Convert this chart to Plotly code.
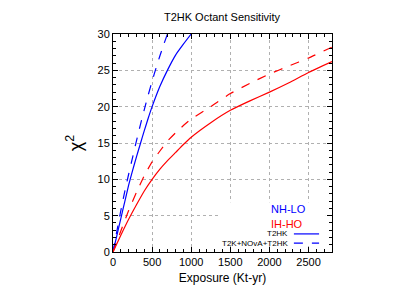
import plotly.graph_objects as go

# NH-LO, T2HK (solid blue)
nh_t2hk_x = [0, 50, 100, 150, 200, 250, 300, 350, 400, 450, 500, 600, 700, 800, 900, 1000]
nh_t2hk_y = [0, 2.3, 4.6, 6.9, 9.2, 11.2, 13.1, 14.9, 16.7, 18.4, 20.0, 22.8, 25.1, 27.1, 28.6, 30.0]
# NH-LO, T2K+NOvA+T2HK (dashed blue)
nh_comb_x = [0, 50, 100, 150, 200, 250, 300, 350, 400, 450, 500, 550, 600, 650, 700]
nh_comb_y = [0, 2.9, 5.7, 8.3, 10.7, 13.0, 15.3, 17.5, 19.6, 21.6, 23.5, 25.3, 27.0, 28.6, 30.1]
# IH-HO, T2HK (solid red)
ih_t2hk_x = [0, 100, 200, 300, 400, 500, 600, 700, 800, 900, 1000, 1250, 1500, 1750, 2000, 2250, 2500, 2800]
ih_t2hk_y = [0, 2.3, 4.5, 6.5, 8.4, 10.0, 11.4, 12.6, 13.7, 14.8, 15.8, 17.8, 19.5, 20.8, 22.0, 23.3, 24.7, 26.2]
# IH-HO, T2K+NOvA+T2HK (dashed red)
ih_comb_x = [0, 100, 200, 300, 400, 500, 600, 700, 800, 900, 1000, 1250, 1500, 1750, 2000, 2250, 2500, 2800]
ih_comb_y = [0, 2.9, 5.7, 8.2, 10.5, 12.4, 13.9, 15.3, 16.4, 17.4, 18.3, 20.0, 21.8, 23.2, 24.5, 25.6, 26.7, 28.2]

x_ticks = [0, 500, 1000, 1500, 2000, 2500]
y_ticks = [0, 5, 10, 15, 20, 25, 30]

BLUE = "#0000ff"
RED = "#ff0000"
FONT = "Liberation Sans"
OFF = 8  # page body margin offset

fig = go.Figure()
for xs, ys, col, dash in [
    (nh_t2hk_x, nh_t2hk_y, BLUE, "solid"),
    (nh_comb_x, nh_comb_y, BLUE, "dash"),
    (ih_t2hk_x, ih_t2hk_y, RED, "solid"),
    (ih_comb_x, ih_comb_y, RED, "dash"),
]:
    fig.add_trace(go.Scatter(x=xs, y=ys, mode="lines",
                             line=dict(color=col, width=1.2, dash=dash, shape="spline", smoothing=0.5),
                             showlegend=False))

axis_common = dict(
    showline=True, linecolor="black", linewidth=1, mirror="ticks",
    ticks="inside", ticklen=5, tickcolor="black",
    showgrid=True, gridcolor="#b0b0b0", griddash="dot", gridwidth=1,
    zeroline=False, tickfont=dict(family=FONT, size=11, color="black"),
    automargin=False,
)
fig.update_xaxes(range=[0, 2800], tickvals=x_ticks,
                 minor=dict(dtick=100, ticks="inside", ticklen=3, tickcolor="black", showgrid=False),
                 title=dict(text="Exposure (Kt-yr)", font=dict(family=FONT, size=12, color="black"), standoff=6),
                 **axis_common)
fig.update_yaxes(range=[0, 30], tickvals=y_ticks,
                 minor=dict(dtick=1, ticks="inside", ticklen=3, tickcolor="black", showgrid=False),
                 title=dict(text="χ<sup>2</sup>", font=dict(family=FONT, size=18, color="black"), standoff=10),
                 **axis_common)

ann = [
    dict(text="NH-LO", x=0.712, y=0.197, xref="paper", yref="paper", xanchor="left", yanchor="middle",
         showarrow=False, font=dict(family=FONT, size=11, color=BLUE)),
    dict(text="IH-HO", x=0.712, y=0.128, xref="paper", yref="paper", xanchor="left", yanchor="middle",
         showarrow=False, font=dict(family=FONT, size=11, color=RED)),
    dict(text="T2HK", x=0.806, y=0.083, xref="paper", yref="paper", xanchor="right", yanchor="middle",
         showarrow=False, font=dict(family=FONT, size=8, color="black")),
    dict(text="T2K+NOvA+T2HK", x=0.806, y=0.041, xref="paper", yref="paper", xanchor="right", yanchor="middle",
         showarrow=False, font=dict(family=FONT, size=8, color="black")),
]
shapes = [
    # opaque legend background (hides grid behind the key), kept clear of the inside ticks
    dict(type="rect", xref="paper", yref="paper", x0=0.48, x1=0.972, y0=0.028, y1=0.228,
         fillcolor="white", line=dict(width=0), layer="above"),
    dict(type="line", xref="paper", yref="paper", x0=0.826, x1=0.941, y0=0.083, y1=0.083,
         line=dict(color=BLUE, width=1.2), layer="above"),
    dict(type="line", xref="paper", yref="paper", x0=0.826, x1=0.941, y0=0.041, y1=0.041,
         line=dict(color=BLUE, width=1.2, dash="dash"), layer="above"),
]

fig.update_layout(
    width=415, height=290,
    margin=dict(l=113 - OFF, r=83 + OFF, t=34 - OFF, b=38 + OFF, autoexpand=False),
    paper_bgcolor="white", plot_bgcolor="white",
    title=dict(text="T2HK Octant Sensitivity", x=(222 - OFF) / 415, xanchor="center", xref="container",
               y=1 - (17 - OFF) / 290, yanchor="middle", yref="container", automargin=False,
               font=dict(family=FONT, size=11, color="black")),
    annotations=ann, shapes=shapes,
)

fig.write_html("out.html")
